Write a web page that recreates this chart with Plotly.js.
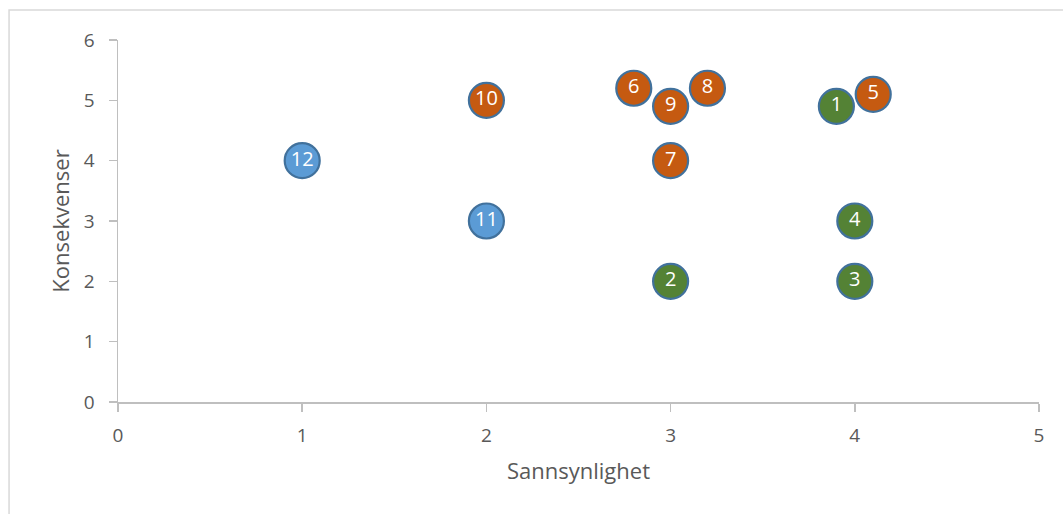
<!DOCTYPE html>
<html>
<head>
<meta charset="utf-8">
<script src="https://cdn.plot.ly/plotly-3.0.1.min.js"></script>
<style>html,body{margin:0;padding:0;background:#fff;}#chart{width:1063px;height:514px;}</style>
</head>
<body>
<div id="chart"></div>
<script>
// Green series
const greenIds = ["1", "2", "3", "4"];
const greenX = [3.9, 3, 4, 4];
const greenY = [4.9, 2, 2, 3];
// Orange series
const orangeIds = ["5", "6", "7", "8", "9", "10"];
const orangeX = [4.1, 2.8, 3, 3.2, 3, 2];
const orangeY = [5.1, 5.2, 4, 5.2, 4.9, 5];
// Blue series
const blueIds = ["11", "12"];
const blueX = [2, 1];
const blueY = [3, 4];

const xTitle = "Sannsynlighet";
const yTitle = "Konsekvenser";

const FONT = "Open Sans, Liberation Sans, sans-serif";

function series(ids, xs, ys, color) {
  return {
    type: "scatter",
    mode: "markers+text",
    x: xs, y: ys, text: ids,
    textposition: "middle center",
    textfont: {family: FONT, size: 20, color: "#ffffff"},
    marker: {size: 35, color: color, line: {color: "#41719C", width: 2.2}},
    hoverinfo: "none",
    cliponaxis: false,
    showlegend: false
  };
}

const data = [
  series(greenIds, greenX, greenY, "#548235"),
  series(orangeIds, orangeX, orangeY, "#C55A11"),
  series(blueIds, blueX, blueY, "#5B9BD5")
];

const axisCommon = {
  showgrid: false,
  zeroline: false,
  showline: true,
  linecolor: "#BFBFBF",
  linewidth: 1.5,
  ticks: "outside",
  ticklen: 8,
  tickcolor: "#BFBFBF",
  tickwidth: 1.5,
  tickfont: {family: FONT, size: 19, color: "#595959"},
  dtick: 1,
  fixedrange: true
};

const layout = {
  width: 1063, height: 514,
  margin: {l: 118, r: 24, t: 40, b: 112},
  paper_bgcolor: "#ffffff",
  plot_bgcolor: "#ffffff",
  xaxis: Object.assign({}, axisCommon, {
    range: [0, 5], tick0: 0,
    ticklabelstandoff: 8,
    title: {text: xTitle, font: {family: FONT, size: 22, color: "#595959"}, standoff: 16}
  }),
  yaxis: Object.assign({}, axisCommon, {
    range: [0, 6], tick0: 0,
    ticklabelstandoff: 10,
    title: {text: yTitle, font: {family: FONT, size: 22, color: "#595959"}, standoff: 8}
  }),
  shapes: [{
    type: "rect", xref: "paper", yref: "paper",
    x0: -0.1183, x1: 1.2, y0: -0.6, y1: 1.0829,
    line: {color: "#D9D9D9", width: 1.5}, fillcolor: "rgba(0,0,0,0)", layer: "below"
  }]
};

Plotly.newPlot("chart", data, layout, {displayModeBar: false, staticPlot: true});
</script>
</body>
</html>
